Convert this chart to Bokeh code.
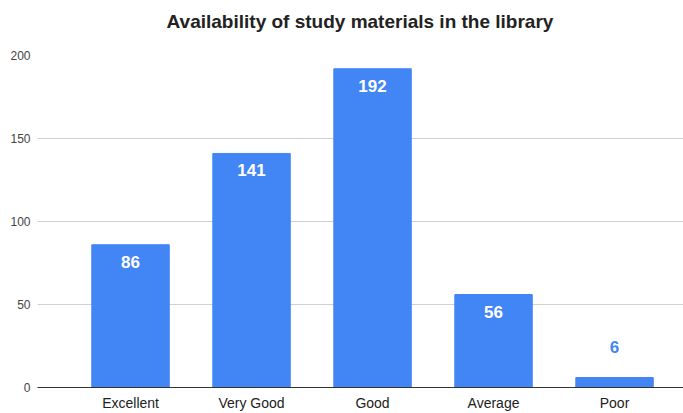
from bokeh.plotting import figure
from bokeh.models import ColumnDataSource, Range1d, FixedTicker, Div
from bokeh.layouts import column
from bokeh.embed import file_html
from bokeh.resources import INLINE

title_text = "Availability of study materials in the library"
categories = ["Excellent", "Very Good", "Good", "Average", "Poor"]
counts = [86, 141, 192, 56, 6]
y_ticks = [0, 50, 100, 150, 200]

FONT = "Liberation Sans"
BLUE = "#4285F4"

xs = list(range(len(categories)))
inside = [c >= 20 for c in counts]
src = ColumnDataSource(dict(x=xs, top=counts))
src_in = ColumnDataSource(dict(x=[x for x, i in zip(xs, inside) if i],
                               y=[c for c, i in zip(counts, inside) if i],
                               label=[str(c) for c, i in zip(counts, inside) if i]))
src_out = ColumnDataSource(dict(x=[x for x, i in zip(xs, inside) if not i],
                                y=[c for c, i in zip(counts, inside) if not i],
                                label=[str(c) for c, i in zip(counts, inside) if not i]))

title = Div(text=('<div style="font-family:\'Liberation Sans\';font-size:19px;'
                  'font-weight:bold;color:#222222;text-align:center;'
                  'line-height:44px;width:646px;">' + title_text + '</div>'),
            width=646, height=44, margin=(0, 0, 0, 37))

p = figure(width=683, height=369, output_backend="svg", toolbar_location=None,
           x_range=Range1d(-0.769, 4.570), y_range=Range1d(0, 200),
           min_border_left=37, min_border_right=0, min_border_top=11, min_border_bottom=24,
           margin=(0, 0, 0, 0))

p.vbar(x="x", top="top", width=0.64, source=src, color=BLUE)
p.text(x="x", y="y", text="label", source=src_in, text_color="white",
       text_font_style="bold", text_font_size="17px", text_align="center",
       text_baseline="middle", y_offset=17, text_font={"value": FONT})
p.text(x="x", y="y", text="label", source=src_out, text_color=BLUE,
       text_font_style="bold", text_font_size="17px", text_align="center",
       text_baseline="middle", y_offset=-31, text_font={"value": FONT})

p.outline_line_color = None
p.xgrid.grid_line_color = None
p.ygrid.grid_line_color = "#d0d0d0"
p.ygrid.ticker = FixedTicker(ticks=y_ticks)

p.yaxis.ticker = FixedTicker(ticks=y_ticks)
p.yaxis.axis_line_color = None
p.yaxis.major_tick_line_color = None
p.yaxis.minor_tick_line_color = None
p.yaxis.major_tick_out = 0
p.yaxis.major_label_standoff = 7
p.yaxis.major_label_text_font = FONT
p.yaxis.major_label_text_font_size = "12px"
p.yaxis.major_label_text_color = "#444444"

p.xaxis.ticker = FixedTicker(ticks=xs)
p.xaxis.major_label_overrides = {i: c for i, c in enumerate(categories)}
p.xaxis.axis_line_color = "#333333"
p.xaxis.axis_line_width = 1
p.xaxis.major_tick_line_color = None
p.xaxis.minor_tick_line_color = None
p.xaxis.major_tick_out = 0
p.xaxis.major_label_standoff = 7
p.xaxis.major_label_text_font = FONT
p.xaxis.major_label_text_font_size = "14px"
p.xaxis.major_label_text_color = "#222222"

layout = column(title, p, spacing=0)
open("out.html", "w").write(file_html(layout, INLINE))
